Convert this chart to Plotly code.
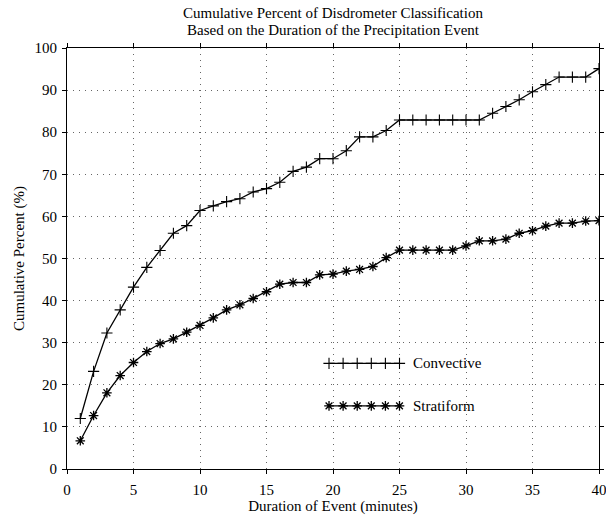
import plotly.graph_objects as go

duration = list(range(1, 41))
convective = [12, 23.2, 32.3, 37.8, 43.2, 47.9, 51.9, 56, 57.8, 61.4,
              62.5, 63.5, 64.2, 65.8, 66.6, 68.1, 70.7, 71.7, 73.7, 73.7,
              75.6, 78.9, 78.9, 80.4, 82.9, 82.9, 82.9, 82.9, 82.9, 82.9,
              82.9, 84.5, 86.1, 87.7, 89.6, 91.3, 93.1, 93.1, 93.1, 95.1]
stratiform = [6.7, 12.7, 18.1, 22.2, 25.3, 27.9, 29.8, 30.9, 32.5, 34.1,
              35.9, 37.8, 39.0, 40.5, 42.1, 43.9, 44.3, 44.3, 46.1, 46.3,
              47.0, 47.4, 48.1, 50.2, 52.0, 52.0, 52.0, 52.0, 52.0, 53.0,
              54.2, 54.2, 54.6, 56.0, 56.6, 57.7, 58.4, 58.4, 58.9, 59.0]
series_names = ["Convective", "Stratiform"]
x_ticks = [0, 5, 10, 15, 20, 25, 30, 35, 40]
y_ticks = [0, 10, 20, 30, 40, 50, 60, 70, 80, 90, 100]
title_lines = ["Cumulative Percent of Disdrometer Classification",
               "Based on the Duration of the Precipitation Event"]

FONT = "Liberation Serif, Times New Roman, serif"
conv_marker = dict(symbol="cross-thin-open", size=8, color="black",
                   line=dict(color="black", width=1.1))
strat_marker = dict(symbol="asterisk-open", size=8, color="black",
                    line=dict(color="black", width=1.3))

fig = go.Figure()
fig.add_trace(go.Scatter(x=duration, y=convective, mode="lines+markers",
                         name=series_names[0], line=dict(color="black", width=1.3),
                         marker=conv_marker, showlegend=False))
fig.add_trace(go.Scatter(x=duration, y=stratiform, mode="lines+markers",
                         name=series_names[1], line=dict(color="black", width=1.3),
                         marker=strat_marker, showlegend=False))

# hand-drawn legend samples (in data coordinates, like the original)
leg_x = [19.7 + i * 1.06 for i in range(6)]
fig.add_trace(go.Scatter(x=leg_x, y=[25.1] * 6, mode="lines+markers",
                         line=dict(color="black", width=1.3), marker=conv_marker,
                         showlegend=False, hoverinfo="skip"))
fig.add_trace(go.Scatter(x=leg_x, y=[15.0] * 6, mode="lines+markers",
                         line=dict(color="black", width=1.3), marker=strat_marker,
                         showlegend=False, hoverinfo="skip"))
for name, yy in zip(series_names, [25.1, 15.0]):
    fig.add_annotation(x=25.9, y=yy, text=name, showarrow=False, xanchor="left",
                       yanchor="middle", font=dict(family=FONT, size=15, color="black"))

# two-line title
for line, shift in zip(title_lines, [35, 18]):
    fig.add_annotation(x=0.5, y=1, xref="paper", yref="paper", text=line,
                       showarrow=False, xanchor="center", yanchor="middle",
                       yshift=shift, font=dict(family=FONT, size=15, color="black"))

axis_common = dict(showline=True, linecolor="black", linewidth=1, mirror="ticks",
                   ticks="outside", ticklen=4, tickcolor="black", tickwidth=1,
                   showgrid=True, gridcolor="#666666", griddash="1px,5px", gridwidth=1,
                   zeroline=False, ticklabeloverflow="allow",
                   tickfont=dict(family=FONT, size=15, color="black"))

fig.update_layout(
    width=606, height=517,
    margin=dict(l=67, r=7, t=48, b=48, autoexpand=False),
    paper_bgcolor="white", plot_bgcolor="white",
    xaxis=dict(range=[0, 40], tickvals=x_ticks, ticklabelstandoff=3,
               title=dict(text="Duration of Event (minutes)", standoff=0,
                          font=dict(family=FONT, size=15, color="black")),
               **axis_common),
    yaxis=dict(range=[0, 100], tickvals=y_ticks, ticklabelstandoff=2,
               title=dict(text="Cumulative Percent (%)", standoff=6,
                          font=dict(family=FONT, size=15, color="black")),
               **axis_common),
)

fig.write_html("out.html", config={"displayModeBar": False},
               post_script="document.body.style.margin='0';document.body.style.overflow='hidden';")
